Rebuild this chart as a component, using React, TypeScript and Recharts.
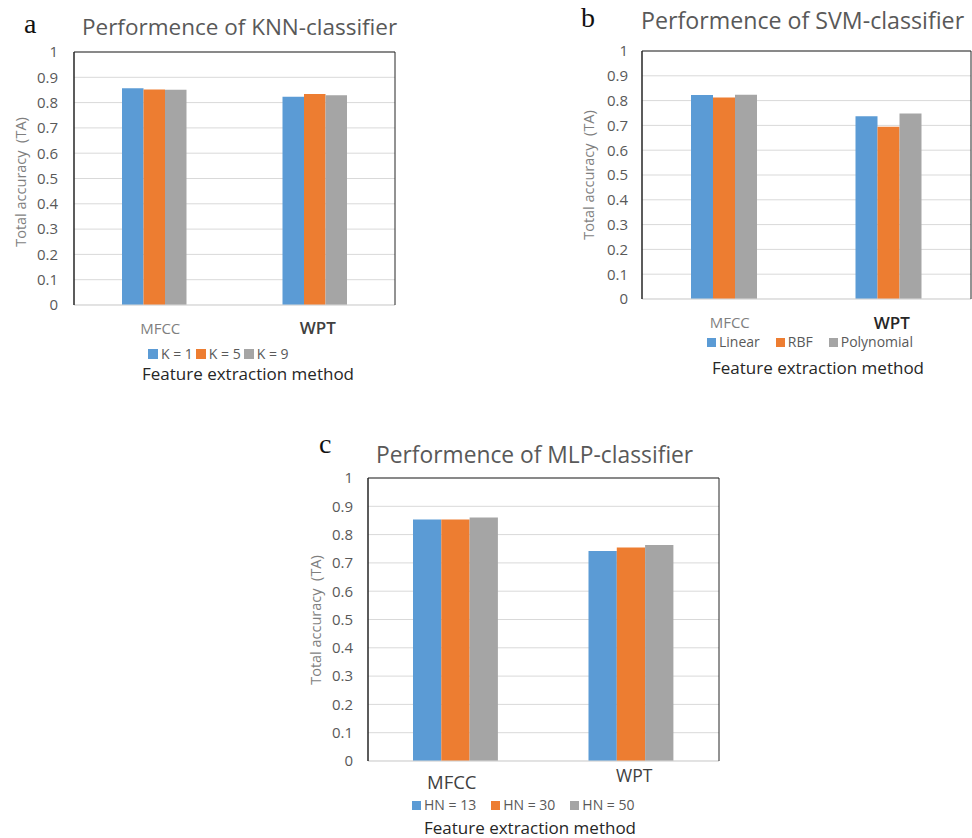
import React from "react";
import { BarChart, Bar, XAxis, YAxis, CartesianGrid, Legend, ReferenceLine } from "recharts";

const methods = ["MFCC", "WPT"];
const yTicks = [0, 0.1, 0.2, 0.3, 0.4, 0.5, 0.6, 0.7, 0.8, 0.9, 1];

const knnNames = ["K = 1", "K = 5", "K = 9"];
const knnK1 = [0.857, 0.823];
const knnK5 = [0.852, 0.834];
const knnK9 = [0.851, 0.829];

const svmNames = ["Linear", "RBF", "Polynomial"];
const svmLinear = [0.823, 0.737];
const svmRbf = [0.812, 0.695];
const svmPoly = [0.824, 0.748];

const mlpNames = ["HN = 13", "HN = 30", "HN = 50"];
const mlpHn13 = [0.853, 0.742];
const mlpHn30 = [0.853, 0.754];
const mlpHn50 = [0.86, 0.763];

const COLORS = ["#5b9bd5", "#ed7d31", "#a5a5a5"];
const FONT = "'Open Sans', 'Noto Sans', sans-serif";
const W = 972;
const H = 838;
const Y_AXIS_W = 60;
const X_AXIS_H = 30;

type TickStyle = { dx: number; dy: number; size: number; fill: string; weight: number };

interface Panel {
  letter: string;
  title: string;
  titleSize: number;
  names: string[];
  series: number[][];
  plot: { l: number; t: number; r: number; b: number };
  barSize: number;
  tickGap: number;
  ticks: TickStyle[];
  letterAt: [number, number];
  titleAt: [number, number];
  yLabelAt: [number, number];
  axisTitleAt: [number, number];
  legend: { left: number; cy: number; gap: number; square: number };
}

const panels: Panel[] = [
  {
    letter: "a",
    title: "Performence of KNN-classifier",
    titleSize: 22.5,
    names: knnNames,
    series: [knnK1, knnK5, knnK9],
    plot: { l: 74, t: 52, r: 395, b: 305 },
    barSize: 21.5,
    tickGap: 16,
    ticks: [
      { dx: 6, dy: 23, size: 15, fill: "#7f7f7f", weight: 400 },
      { dx: 3, dy: 22, size: 17, fill: "#404040", weight: 600 },
    ],
    letterAt: [24, 33],
    titleAt: [82, 35],
    yLabelAt: [20, 182],
    axisTitleAt: [248, 373],
    legend: { left: 148, cy: 354, gap: 3, square: 10 },
  },
  {
    letter: "b",
    title: "Performence of SVM-classifier",
    titleSize: 23.2,
    names: svmNames,
    series: [svmLinear, svmRbf, svmPoly],
    plot: { l: 642, t: 51, r: 971, b: 299 },
    barSize: 22,
    tickGap: 14,
    ticks: [
      { dx: 5.5, dy: 23, size: 15, fill: "#7f7f7f", weight: 400 },
      { dx: 3, dy: 23, size: 17, fill: "#262626", weight: 600 },
    ],
    letterAt: [581, 27],
    titleAt: [641, 29],
    yLabelAt: [588, 175],
    axisTitleAt: [818, 367],
    legend: { left: 707, cy: 342, gap: 16, square: 9 },
  },
  {
    letter: "c",
    title: "Performence of MLP-classifier",
    titleSize: 22.8,
    names: mlpNames,
    series: [mlpHn13, mlpHn30, mlpHn50],
    plot: { l: 368, t: 478, r: 719, b: 761 },
    barSize: 28.3,
    tickGap: 15,
    ticks: [
      { dx: -4, dy: 20, size: 18.5, fill: "#404040", weight: 400 },
      { dx: 3, dy: 14, size: 17.5, fill: "#404040", weight: 400 },
    ],
    letterAt: [319, 453],
    titleAt: [376, 463],
    yLabelAt: [315, 620],
    axisTitleAt: [530, 827],
    legend: { left: 412, cy: 805, gap: 15, square: 9 },
  },
];

function makeTick(styles: TickStyle[]) {
  return (props: any) => {
    const { x, y, payload } = props;
    const s = styles[methods.indexOf(payload.value)] ?? styles[0];
    return (
      <text
        x={x + s.dx}
        y={y + s.dy}
        textAnchor="middle"
        dominantBaseline="central"
        fill={s.fill}
        fontSize={s.size}
        fontWeight={s.weight}
        fontFamily={FONT}
      >
        {payload.value}
      </text>
    );
  };
}

function PanelChart({ p }: { p: Panel }) {
  const data = methods.map((m, i) => {
    const row: Record<string, string | number> = { method: m };
    p.series.forEach((s, k) => (row[`s${k}`] = s[i]));
    return row;
  });
  const margin = {
    top: p.plot.t,
    left: p.plot.l - Y_AXIS_W,
    right: W - p.plot.r - 1,
    bottom: H - p.plot.b - X_AXIS_H,
  };
  const { legend } = p;

  return (
    <div style={{ position: "absolute", left: 0, top: 0 }}>
      <BarChart width={W} height={H} data={data} margin={margin} barGap={0}>
        <CartesianGrid vertical={false} stroke="#d9d9d9" />
        <XAxis
          dataKey="method"
          height={X_AXIS_H}
          interval={0}
          tickLine={false}
          tickSize={0}
          tickMargin={0}
          axisLine={{ stroke: "#d9d9d9" }}
          tick={makeTick(p.ticks)}
        />
        <YAxis
          domain={[0, 1]}
          ticks={yTicks}
          width={Y_AXIS_W}
          tickLine={false}
          tickSize={0}
          tickMargin={p.tickGap}
          axisLine={{ stroke: "#262626", strokeWidth: 1.5 }}
          tick={{ fill: "#595959", fontSize: 15, fontFamily: FONT }}
          tickFormatter={(v: number) => String(v)}
        />
        <YAxis
          yAxisId="frame"
          orientation="right"
          width={1}
          domain={[0, 1]}
          tick={false}
          tickLine={false}
          axisLine={{ stroke: "#262626" }}
        />
        <ReferenceLine y={1} stroke="#262626" ifOverflow="visible" />
        {/* middle + center keeps the legend from reserving room in the plot offset */}
        <Legend
          layout="horizontal"
          verticalAlign="middle"
          align="center"
          wrapperStyle={{ position: "absolute", left: legend.left, top: legend.cy - 9, width: "auto" }}
          content={({ payload }: any) => {
            const items = [...(payload ?? [])].sort(
              (a: any, b: any) => p.names.indexOf(a.value) - p.names.indexOf(b.value)
            );
            return (
              <div
                style={{
                  display: "flex",
                  alignItems: "center",
                  gap: legend.gap,
                  fontFamily: FONT,
                  fontSize: 14,
                  lineHeight: "18px",
                  color: "#595959",
                  whiteSpace: "nowrap",
                }}
              >
                {items.map((entry: any) => (
                  <span key={entry.value} style={{ display: "flex", alignItems: "center" }}>
                    <span
                      style={{
                        display: "inline-block",
                        width: legend.square,
                        height: legend.square,
                        background: entry.color,
                        marginRight: 3,
                      }}
                    />
                    {entry.value}
                  </span>
                ))}
              </div>
            );
          }}
        />
        {p.series.map((_, k) => (
          <Bar
            key={k}
            dataKey={`s${k}`}
            name={p.names[k]}
            fill={COLORS[k]}
            barSize={p.barSize}
            isAnimationActive={false}
          />
        ))}
      </BarChart>
    </div>
  );
}

function Captions({ p }: { p: Panel }) {
  return (
    <g>
      <text x={p.letterAt[0]} y={p.letterAt[1]} fontFamily="'Liberation Serif', serif" fontSize={28} fill="#111">
        {p.letter}
      </text>
      <text x={p.titleAt[0]} y={p.titleAt[1]} fontFamily={FONT} fontSize={p.titleSize} fill="#595959">
        {p.title}
      </text>
      <text
        x={p.yLabelAt[0]}
        y={p.yLabelAt[1]}
        transform={`rotate(-90, ${p.yLabelAt[0]}, ${p.yLabelAt[1]})`}
        textAnchor="middle"
        dominantBaseline="central"
        fontFamily={FONT}
        fontSize={14.5}
        fill="#7f7f7f"
        style={{ whiteSpace: "pre" }}
      >
        Total accuracy  (TA)
      </text>
      <text
        x={p.axisTitleAt[0]}
        y={p.axisTitleAt[1]}
        textAnchor="middle"
        dominantBaseline="central"
        fontFamily={FONT}
        fontSize={17}
        fill="#262626"
      >
        Feature extraction method
      </text>
    </g>
  );
}

export default function App() {
  return (
    <div style={{ position: "absolute", left: 0, top: 0, width: W, height: H, background: "#fff" }}>
      {panels.map((p) => (
        <PanelChart key={p.letter} p={p} />
      ))}
      <svg width={W} height={H} style={{ position: "absolute", left: 0, top: 0, pointerEvents: "none" }}>
        {panels.map((p) => (
          <Captions key={p.letter} p={p} />
        ))}
      </svg>
    </div>
  );
}
